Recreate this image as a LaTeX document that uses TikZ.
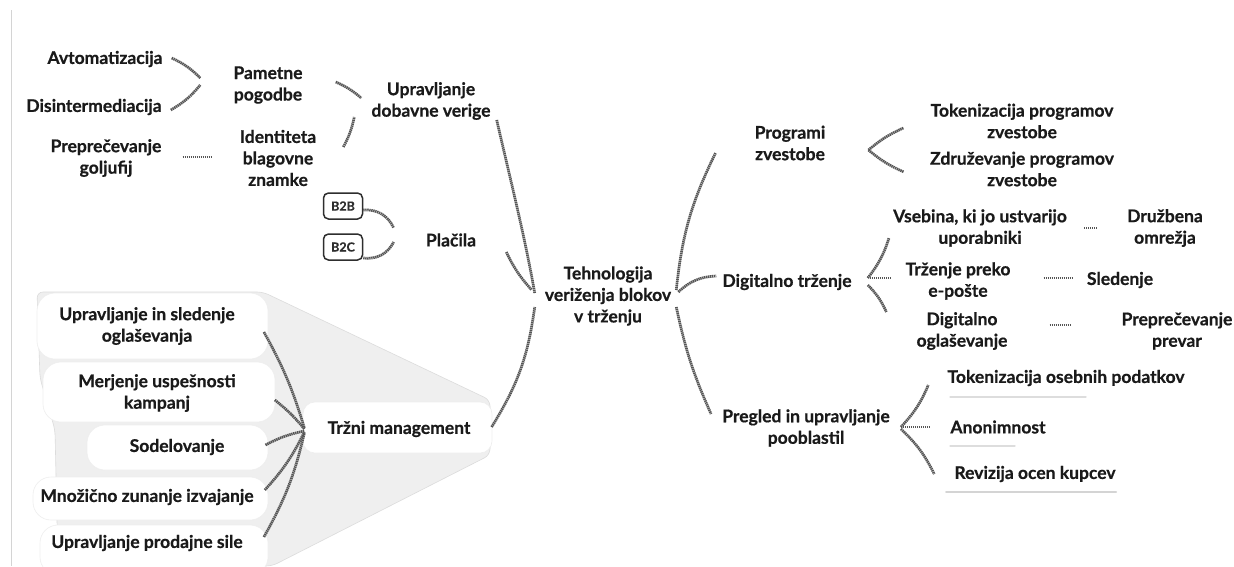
\documentclass[tikz,border=0pt]{standalone}
\usepackage{fontspec}
\setmainfont{Lato}[BoldFeatures={FakeBold=0.6}]
\definecolor{txt}{HTML}{1A1A1A}
\definecolor{conc}{HTML}{555555}
\definecolor{funf}{HTML}{EFEFEF}
\definecolor{fund}{HTML}{DCDCDC}
\definecolor{pillb}{HTML}{EEEEEE}
\definecolor{boxc}{HTML}{2E2E2E}
\definecolor{ulc}{HTML}{DDDDDD}
\definecolor{edge}{HTML}{D4D4D4}
\begin{document}
\begin{tikzpicture}[x=1pt,y=-1pt,
  lbl/.style={font=\bfseries\fontsize{17.5}{21.5}\selectfont, text=txt, align=center, inner sep=0pt},
  con/.style={draw=conc, line width=2.7pt, dash pattern=on 1.4pt off 0.6pt},
  pill/.style={fill=white, draw=pillb, line width=0.6pt, rounded corners=18pt},
  bbox/.style={draw=boxc, line width=1.5pt, rounded corners=5pt, minimum width=39pt, minimum height=26pt, inner sep=0pt, font=\bfseries\fontsize{12.5}{13}\selectfont, text=boxc},
  uline/.style={draw=ulc, line width=1.3pt, line cap=round}
]
\useasboundingbox (0,0) rectangle (1234,566);
\fill[white] (0,0) rectangle (1234,566);
\draw[edge, line width=1pt] (11,10) -- (11,566);

% funnel background
\filldraw[fill=funf, draw=fund, line width=0.6pt, rounded corners=6pt]
  (37,292) -- (263,292) -- (490,400) -- (490,455) -- (272,566) -- (58,566) -- (55,430) -- (40,378) -- cycle;
\path[pill] (37,293) rectangle (268,359);
\path[pill] (43,362) rectangle (275,422);
\path[pill] (87,425) rectangle (268,470);
\path[pill] (33,477) rectangle (268,520);
\path[pill] (40,525) rectangle (268,575);
\path[pill, rounded corners=12pt] (303,402) rectangle (492,453);

% underline shadows right bottom
\draw[uline] (950,397) -- (1086,397);
\draw[uline] (950,446) -- (1015,446);
\draw[uline, line width=2pt, draw=edge] (946,492) -- (1116,492);

% nodes
\node[lbl] (avt) at (105,59) {Avtomatizacija};
\node[lbl] (dis) at (94,107) {Disintermediacija};
\node[lbl] (pam) at (268,85) {Pametne\\pogodbe};
\node[lbl] (upr) at (431,101) {Upravljanje\\dobavne verige};
\node[lbl] (prep) at (106,158) {Preprečevanje\\goljufij};
\node[lbl] (ident) at (278,158) {Identiteta\\blagovne\\znamke};
\node[bbox] (b2b) at (343,206) {B2B};
\node[bbox] (b2c) at (343,247) {B2C};
\node[lbl] (plac) at (451,240) {Plačila};
\node[lbl] (tehn) at (608,296) {Tehnologija\\veriženja blokov\\v trženju};
\node[lbl] (trzni) at (399,429) {Tržni management};
\node[lbl] (l1) at (147,326) {Upravljanje in sledenje\\oglaševanja};
\node[lbl] (l2) at (157,393) {Merjenje uspešnosti\\kampanj};
\node[lbl] (l3) at (177,447) {Sodelovanje};
\node[lbl] (l4) at (147,497) {Množično zunanje izvajanje};
\node[lbl] (l5) at (147,543) {Upravljanje prodajne sile};
\node[lbl] (prog) at (790,143) {Programi\\zvestobe};
\node[lbl] (tok) at (1022,121) {Tokenizacija programov\\zvestobe};
\node[lbl] (zdr) at (1022,169) {Združevanje programov\\zvestobe};
\node[lbl] (dig) at (787,282) {Digitalno trženje};
\node[lbl] (vseb) at (980,228) {Vsebina, ki jo ustvarijo\\uporabniki};
\node[lbl] (druz) at (1165,228) {Družbena\\omrežja};
\node[lbl] (trz) at (958,281) {Trženje preko\\e-pošte};
\node[lbl] (sled) at (1120,280) {Sledenje};
\node[lbl] (digo) at (962,331) {Digitalno\\oglaševanje};
\node[lbl] (prepv) at (1177,331) {Preprečevanje\\prevar};
\node[lbl] (preg) at (806,428) {Pregled in upravljanje\\pooblastil};
\node[lbl] (toko) at (1066,378) {Tokenizacija osebnih podatkov};
\node[lbl] (anon) at (998,427) {Anonimnost};
\node[lbl] (rev) at (1035,474) {Revizija ocen kupcev};

% connectors top-left
\draw[con] ([shift={(9,-1)}]avt.east) to[bend left=10] ([shift={(-33,-7)}]pam.west);
\draw[con] ([shift={(9,3)}]dis.east) to[bend right=10] ([shift={(-33,0)}]pam.west);
\draw[con] ([shift={(33,-3)}]pam.east) to[bend left=8] ([shift={(-10,-3)}]upr.west);
\draw[con] ([shift={(27,-11)}]ident.east) to[bend right=8] ([shift={(-17,16)}]upr.west);
\draw[con] ([shift={(21,-1)}]prep.east) -- ([shift={(-29,-1)}]ident.west);
\draw[con] ([shift={(0,4)}]b2b.east) to[bend left=35] ([shift={(-32,-12)}]plac.west);
\draw[con] ([shift={(0,11)}]b2c.east) to[bend right=35] ([shift={(-32,2)}]plac.west);
% to center
\draw[con] ([shift={(6,19)}]upr.east) .. controls ([shift={(20,80)}]upr.east) and ([shift={(-20,-60)}]tehn.west) .. ([shift={(-10,-3)}]tehn.west);
\draw[con] ([shift={(30,12)}]plac.east) to[bend right=8] ([shift={(-13,-6)}]tehn.west);
\draw[con] ([shift={(21,-2)}]trzni.east) to[bend right=12] ([shift={(-10,11)}]tehn.west);
% from center to right
\draw[con] ([shift={(5,-6)}]tehn.east) to[bend left=10] ([shift={(-39,10)}]prog.west);
\draw[con] ([shift={(7,-4)}]tehn.east) to[bend left=20] ([shift={(-6,-6)}]dig.west);
\draw[con] ([shift={(5,11)}]tehn.east) to[bend right=6] ([shift={(-11,-14)}]preg.west);
% programi
\draw[con] ([shift={(43,7)}]prog.east) to[bend left=8] ([shift={(-27,7)}]tok.west);
\draw[con] ([shift={(43,7)}]prog.east) to[bend right=8] ([shift={(-26,3)}]zdr.west);
% digitalno
\draw[con] ([shift={(16,-4)}]dig.east) to[bend right=10] ([shift={(-4,10)}]vseb.west);
\draw[con] ([shift={(18,-4)}]dig.east) -- ([shift={(-14,-3)}]trz.west);
\draw[con] ([shift={(16,3)}]dig.east) to[bend left=10] ([shift={(-30,-19)}]digo.west);
\draw[con] ([shift={(17,0)}]vseb.east) -- ([shift={(-29,0)}]druz.west);
\draw[con] ([shift={(33,-3)}]trz.east) -- ([shift={(-14,-2)}]sled.west);
\draw[con] ([shift={(42,-6)}]digo.east) -- ([shift={(-50,-6)}]prepv.west);
% pregled
\draw[con] ([shift={(11,-1)}]preg.east) to[bend right=10] ([shift={(-19,7)}]toko.west);
\draw[con] ([shift={(11,-1)}]preg.east) -- ([shift={(-21,0)}]anon.west);
\draw[con] ([shift={(11,1)}]preg.east) to[bend left=10] ([shift={(-20,0)}]rev.west);
% left list to trzni
\draw[con] ([shift={(29,6)}]l1.east) to[bend left=6] ([shift={(-23,-1)}]trzni.west);
\draw[con] ([shift={(39,7)}]l2.east) to[bend left=6] ([shift={(-23,0)}]trzni.west);
\draw[con] ([shift={(41,-2)}]l3.east) to[bend left=8] ([shift={(-23,2)}]trzni.west);
\draw[con] ([shift={(11,-7)}]l4.east) to[bend right=8] ([shift={(-23,3)}]trzni.west);
\draw[con] ([shift={(21,-6)}]l5.east) to[bend right=8] ([shift={(-23,4)}]trzni.west);
\end{tikzpicture}
\end{document}
